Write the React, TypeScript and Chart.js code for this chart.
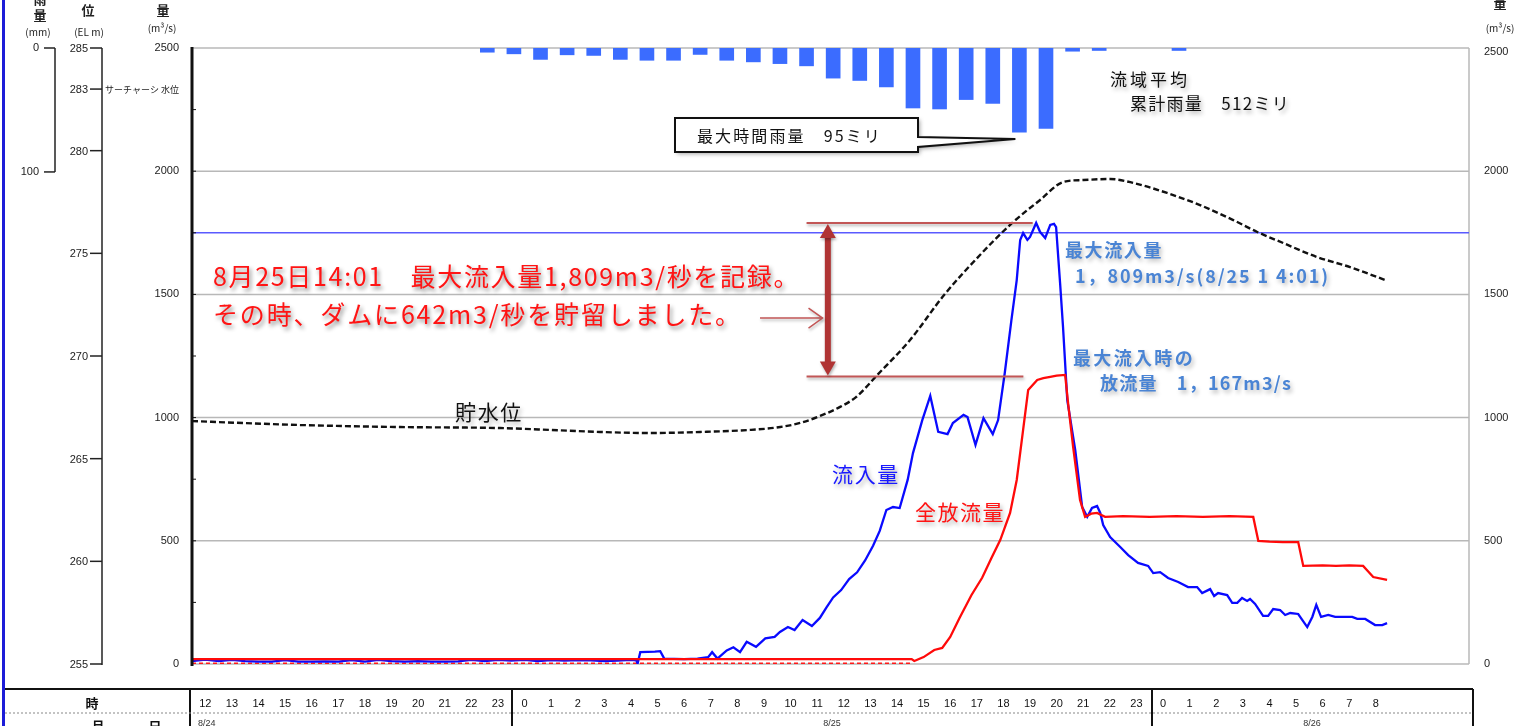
import React, { useEffect, useRef } from "react";
import { Chart, registerables } from "chart.js";

Chart.register(...registerables);

const W = 1526;
const H = 726;

// ---- axis ticks ----
const flowTicks = [0, 500, 1000, 1500, 2000, 2500];
const levelTicks = [285, 283, 280, 275, 270, 265, 260, 255];
const rainTicks = [0, 100];
const rainAxisMax = 497;

// ---- time table ----
const day1Hours = ["12", "13", "14", "15", "16", "17", "18", "19", "20", "21", "22", "23"];
const day2Hours = ["0", "1", "2", "3", "4", "5", "6", "7", "8", "9", "10", "11", "12", "13", "14", "15", "16", "17", "18", "19", "20", "21", "22", "23"];
const day3Hours = ["0", "1", "2", "3", "4", "5", "6", "7", "8"];
const dateLabels = ["8/24", "8/25", "8/26"];

// ---- hourly basin rainfall (mm), x in hours from 8/24 12:00 ----
const rainHours = [11.1, 12.1, 13.1, 14.1, 15.1, 16.1, 17.1, 18.1, 19.1, 20.1, 21.1, 22.1, 23.1, 24.1, 25.1, 26.1, 27.1, 28.1, 29.1, 30.1, 31.1, 32.1, 33.1, 34.1, 37.1];
const rainMm = [3.4, 4.7, 9.2, 5.5, 6.0, 9.2, 9.9, 9.9, 5.2, 9.9, 11.2, 12.6, 14.4, 24.3, 26.2, 31.4, 48.4, 49.2, 41.6, 44.7, 68.0, 64.9, 2.6, 2.0, 2.0];

// ---- inflow (m3/s) ----
const inflowHours = [0, 0.5, 1.0, 1.5, 2.0, 2.5, 3.0, 3.5, 4.0, 4.5, 5.0, 5.5, 6.0, 6.5, 7.0, 7.5, 8.0, 8.5, 9.0, 9.5, 10.0, 10.5, 11.0, 11.5, 12.0, 12.5, 13.0, 13.5, 14.0, 14.5, 15.0, 15.5, 16.0, 16.5, 16.7, 16.75, 16.85, 17.4, 17.6, 17.75, 18.5, 19.0, 19.4, 19.55, 19.75, 20.1, 20.35, 20.6, 20.85, 21.2, 21.55, 21.9, 22.1, 22.4, 22.65, 22.95, 23.3, 23.6, 23.85, 24.1, 24.4, 24.7, 25.0, 25.3, 25.6, 25.85, 26.1, 26.35, 26.6, 26.9, 27.1, 27.45, 27.75, 28.05, 28.4, 28.6, 29.0, 29.15, 29.45, 29.75, 30.1, 30.3, 30.55, 30.8, 31.0, 31.13, 31.24, 31.4, 31.5, 31.73, 31.88, 32.07, 32.26, 32.4, 32.48, 32.63, 32.74, 32.9, 33.2, 33.46, 33.65, 33.83, 34.02, 34.14, 34.25, 34.51, 34.89, 35.19, 35.56, 35.94, 36.13, 36.39, 36.69, 37.07, 37.44, 37.78, 37.97, 38.27, 38.42, 38.57, 38.91, 39.1, 39.29, 39.47, 39.66, 39.77, 39.96, 40.26, 40.45, 40.64, 40.9, 41.09, 41.28, 41.58, 41.92, 42.11, 42.26, 42.44, 42.71, 42.97, 43.27, 43.61, 43.8, 44.1, 44.47, 44.74, 44.92];
const inflowValues = [12, 18, 12, 17, 12, 10, 10, 16, 10, 10, 11, 10, 16, 10, 17, 12, 10, 12, 10, 10, 11, 17, 12, 17, 14, 17, 12, 16, 14, 16, 15, 12, 14, 17, 15, 2, 48, 50, 52, 22, 20, 22, 28, 48, 22, 55, 68, 48, 90, 70, 104, 110, 130, 150, 138, 178, 154, 187, 230, 270, 300, 345, 372, 420, 480, 540, 625, 637, 633, 747, 856, 990, 1088, 942, 933, 978, 1011, 1002, 889, 998, 933, 990, 1181, 1396, 1558, 1721, 1749, 1721, 1733, 1790, 1753, 1729, 1782, 1786, 1773, 1546, 1368, 1071, 868, 637, 597, 633, 641, 613, 564, 515, 475, 442, 410, 398, 369, 373, 349, 333, 312, 312, 288, 304, 276, 288, 280, 248, 248, 268, 256, 264, 244, 195, 195, 223, 219, 199, 207, 203, 150, 191, 240, 191, 199, 191, 191, 191, 183, 183, 158, 158, 166];

// ---- total outflow (m3/s) ----
const outflowHours = [0, 5, 10, 15, 20, 25, 27.05, 27.15, 27.5, 27.9, 28.2, 28.5, 28.85, 29.3, 29.7, 30.05, 30.38, 30.75, 31.0, 31.24, 31.43, 31.77, 32.0, 32.26, 32.5, 32.82, 32.93, 33.12, 33.38, 33.57, 33.8, 34.02, 34.32, 35.0, 36.0, 37.0, 38.0, 39.0, 39.89, 40.08, 40.5, 41.0, 41.58, 41.77, 42.5, 43.0, 43.5, 44.02, 44.4, 44.92];
const outflowValues = [20, 20, 20, 20, 20, 20, 20, 12, 28, 57, 65, 110, 187, 280, 350, 430, 503, 613, 747, 950, 1112, 1153, 1160, 1165, 1170, 1173, 1059, 881, 666, 597, 610, 613, 597, 600, 597, 600, 597, 600, 597, 500, 497, 495, 495, 398, 400, 398, 400, 398, 353, 341];

// ---- red dashed base discharge ----
const baseHours = [0, 27.1];
const baseValues = [2, 2];

// ---- reservoir water level (EL m) ----
const levelHours = [0, 4.06, 7.82, 11.58, 13.46, 15.34, 17.22, 19.1, 20.98, 22.11, 22.86, 23.61, 24.36, 24.96, 25.79, 26.99, 28.27, 29.62, 30.83, 31.88, 32.74, 33.5, 34.51, 35.38, 36.65, 37.89, 39.14, 40.04, 41.02, 42.29, 43.53, 44.85];
const levelValues = [266.83, 266.64, 266.54, 266.49, 266.4, 266.3, 266.25, 266.3, 266.4, 266.54, 266.74, 267.08, 267.52, 268.0, 269.12, 270.78, 272.97, 274.92, 276.48, 277.6, 278.47, 278.57, 278.62, 278.43, 277.94, 277.35, 276.62, 276.04, 275.5, 274.82, 274.33, 273.7];

// ---- reference flow line ----
const refLineHours = [0, 48];
const refLineValues = [1750, 1750];

// ---- storage bracket annotation ----
const bracketTopFlow = 1790;
const bracketBottomFlow = 1167;
const bracketFromHour = 23.1;
const bracketTopToHour = 31.6;
const bracketBottomToHour = 31.25;
const bracketArrowHour = 23.9;
const pointerFromHour = 21.35;
const pointerToHour = 23.7;
const pointerFlow = 1404;

const pts = (xs: number[], ys: number[]) => xs.map((x, i) => ({ x, y: ys[i] }));

const NUM_FONT = '11px "Liberation Sans", Arial, sans-serif';
const JP = '"Noto Sans CJK JP", "Noto Sans", sans-serif';

function fitText(
  ctx: CanvasRenderingContext2D,
  text: string,
  x: number,
  y: number,
  width: number,
  font: string,
  color: string,
  shadow?: string
) {
  ctx.save();
  ctx.font = font;
  ctx.fillStyle = color;
  ctx.textBaseline = "middle";
  ctx.textAlign = "left";
  (ctx as any).letterSpacing = "0px";
  const n = Array.from(text).length;
  const w = ctx.measureText(text).width;
  const ls = n > 0 ? (width - w) / n : 0;
  (ctx as any).letterSpacing = ls.toFixed(2) + "px";
  if (shadow) {
    ctx.shadowColor = shadow;
    ctx.shadowBlur = 4;
    ctx.shadowOffsetX = 2;
    ctx.shadowOffsetY = 3;
  }
  ctx.fillText(text, x, y);
  ctx.restore();
}

function txt(
  ctx: CanvasRenderingContext2D,
  text: string,
  x: number,
  y: number,
  font: string,
  align: CanvasTextAlign,
  color = "#222"
) {
  ctx.font = font;
  ctx.textAlign = align;
  ctx.textBaseline = "middle";
  ctx.fillStyle = color;
  ctx.fillText(text, x, y);
}

function seg(ctx: CanvasRenderingContext2D, x1: number, y1: number, x2: number, y2: number) {
  ctx.beginPath();
  ctx.moveTo(x1, y1);
  ctx.lineTo(x2, y2);
  ctx.stroke();
}

const overlay = {
  id: "overlay",
  beforeDatasetsDraw(chart: any) {
    const { ctx, chartArea: a, scales } = chart;
    const y = scales.y;
    ctx.save();
    ctx.strokeStyle = "#b8b8b8";
    ctx.lineWidth = 1.5;
    for (const v of flowTicks) {
      const py = y.getPixelForValue(v);
      seg(ctx, a.left, py, a.right, py);
    }
    seg(ctx, a.right, a.top, a.right, a.bottom);
    ctx.restore();
  },
  afterDatasetsDraw(chart: any) {
    const { ctx, chartArea: a, scales } = chart;
    const x = scales.x;
    const y = scales.y;
    const yl = scales.yLevel;
    const yr = scales.yRain;
    ctx.save();

    // page left border
    ctx.fillStyle = "#1c1cd8";
    ctx.fillRect(2, 0, 3, H);

    // left plot axis (thick)
    ctx.strokeStyle = "#111";
    ctx.lineWidth = 3;
    seg(ctx, a.left, a.top - 1, a.left, a.bottom + 2);
    ctx.lineWidth = 1;
    for (let v = 250; v < 2500; v += 250) {
      const py = y.getPixelForValue(v);
      seg(ctx, a.left, py, a.left + 4, py);
    }

    // flow labels left and right
    for (const v of flowTicks) {
      const py = y.getPixelForValue(v);
      txt(ctx, String(v), 179, py, NUM_FONT, "right");
      txt(ctx, String(v), a.right + 15, py + (v === 2500 ? 4 : 0), NUM_FONT, "left");
    }

    // water level axis
    ctx.strokeStyle = "#222";
    ctx.lineWidth = 1.5;
    seg(ctx, 102, yl.getPixelForValue(285), 102, yl.getPixelForValue(255) + 1);
    for (const v of levelTicks) {
      const py = yl.getPixelForValue(v);
      seg(ctx, 90, py, 102, py);
      txt(ctx, String(v), 88, py + 1, NUM_FONT, "right");
    }
    txt(ctx, "サーチャーシ 水位", 105, yl.getPixelForValue(283) + 1, `9px ${JP}`, "left");

    // rain axis
    seg(ctx, 55, yr.getPixelForValue(0), 55, yr.getPixelForValue(100));
    for (const v of rainTicks) {
      const py = yr.getPixelForValue(v);
      seg(ctx, 44, py, 55, py);
      txt(ctx, String(v), 39, py, NUM_FONT, "right");
    }

    // headers
    const hb = `bold 13px ${JP}`;
    const hs = `10px ${JP}`;
    txt(ctx, "雨", 40, -1, hb, "center");
    txt(ctx, "量", 40, 15, hb, "center");
    txt(ctx, "(mm)", 38, 32, hs, "center");
    txt(ctx, "位", 88, 10, hb, "center");
    txt(ctx, "(EL m)", 89, 32, hs, "center");
    txt(ctx, "量", 163, 10, hb, "center");
    txt(ctx, "(m³/s)", 162, 28, hs, "center");
    txt(ctx, "量", 1500, 3, hb, "center");
    txt(ctx, "(m³/s)", 1500, 28, hs, "center");

    // bottom table
    ctx.strokeStyle = "#111";
    ctx.lineWidth = 2;
    seg(ctx, 5, 689, 1473, 689);
    for (const xv of [190, 512, 1152, 1473]) seg(ctx, xv, 689, xv, H);
    ctx.strokeStyle = "#888";
    ctx.lineWidth = 1;
    ctx.setLineDash([2, 2]);
    seg(ctx, 5, 713, 1473, 713);
    ctx.setLineDash([]);
    txt(ctx, "時", 92, 703, `bold 13px ${JP}`, "center", "#111");
    txt(ctx, "月", 98, 726, `bold 13px ${JP}`, "center", "#111");
    txt(ctx, "日", 155, 726, `bold 13px ${JP}`, "center", "#111");
    const allHours = [...day1Hours, ...day2Hours, ...day3Hours];
    allHours.forEach((h, i) => {
      txt(ctx, h, x.getPixelForValue(i + 0.5), 704, NUM_FONT, "center", "#111");
    });
    txt(ctx, dateLabels[0], 198, 724, `9px "Liberation Sans"`, "left", "#333");
    txt(ctx, dateLabels[1], 832, 724, `9px "Liberation Sans"`, "center", "#333");
    txt(ctx, dateLabels[2], 1312, 724, `9px "Liberation Sans"`, "center", "#333");

    // rainfall callout box
    ctx.save();
    ctx.beginPath();
    ctx.moveTo(675, 118);
    ctx.lineTo(918, 118);
    ctx.lineTo(918, 137);
    ctx.lineTo(x.getPixelForValue(rainHours[20]) - 4, 139);
    ctx.lineTo(918, 147);
    ctx.lineTo(918, 152);
    ctx.lineTo(675, 152);
    ctx.closePath();
    ctx.fillStyle = "#fff";
    ctx.shadowColor = "rgba(0,0,0,0.35)";
    ctx.shadowBlur = 4;
    ctx.shadowOffsetX = 2;
    ctx.shadowOffsetY = 2;
    ctx.fill();
    ctx.shadowColor = "transparent";
    ctx.strokeStyle = "#111";
    ctx.lineWidth = 2;
    ctx.stroke();
    ctx.restore();
    fitText(ctx, "最大時間雨量　95ミリ", 697, 136, 185, `16px ${JP}`, "#111");

    fitText(ctx, "流域平均", 1110, 80, 80, `17px ${JP}`, "#111", "rgba(0,0,0,0.3)");
    fitText(ctx, "累計雨量　512ミリ", 1130, 104, 160, `17px ${JP}`, "#111", "rgba(0,0,0,0.3)");

    // bracket annotation
    const bTop = y.getPixelForValue(bracketTopFlow);
    const bBot = y.getPixelForValue(bracketBottomFlow);
    const bx0 = x.getPixelForValue(bracketFromHour);
    ctx.save();
    ctx.shadowColor = "rgba(0,0,0,0.3)";
    ctx.shadowBlur = 3;
    ctx.shadowOffsetX = 1;
    ctx.shadowOffsetY = 2;
    ctx.strokeStyle = "#c25656";
    ctx.lineWidth = 2;
    seg(ctx, bx0, bTop, x.getPixelForValue(bracketTopToHour), bTop);
    seg(ctx, bx0, bBot, x.getPixelForValue(bracketBottomToHour), bBot);
    const ax = x.getPixelForValue(bracketArrowHour);
    ctx.strokeStyle = "#b03434";
    ctx.lineWidth = 6;
    seg(ctx, ax, bTop + 12, ax, bBot - 12);
    ctx.fillStyle = "#b03434";
    ctx.beginPath();
    ctx.moveTo(ax, bTop + 1);
    ctx.lineTo(ax - 8, bTop + 15);
    ctx.lineTo(ax + 8, bTop + 15);
    ctx.closePath();
    ctx.fill();
    ctx.beginPath();
    ctx.moveTo(ax, bBot - 1);
    ctx.lineTo(ax - 8, bBot - 15);
    ctx.lineTo(ax + 8, bBot - 15);
    ctx.closePath();
    ctx.fill();
    // thin pointer
    const py = y.getPixelForValue(pointerFlow);
    const px0 = x.getPixelForValue(pointerFromHour);
    const px1 = x.getPixelForValue(pointerToHour);
    ctx.strokeStyle = "#c25656";
    ctx.lineWidth = 1.5;
    seg(ctx, px0, py, px1, py);
    ctx.beginPath();
    ctx.moveTo(px1 - 14, py - 10);
    ctx.lineTo(px1, py);
    ctx.lineTo(px1 - 14, py + 10);
    ctx.stroke();
    ctx.restore();

    // red statement
    fitText(ctx, "8月25日14:01　最大流入量1,809m3/秒を記録。", 213, 276, 587, `25px ${JP}`, "#ff1414", "rgba(0,0,0,0.45)");
    fitText(ctx, "その時、ダムに642m3/秒を貯留しました。", 213, 314, 529, `25px ${JP}`, "#ff1414", "rgba(0,0,0,0.45)");

    // blue annotations
    const bl = "#4a84d4";
    fitText(ctx, "最大流入量", 1065, 250, 98, `bold 18px ${JP}`, bl, "rgba(0,0,0,0.25)");
    fitText(ctx, "1，809m3/s(8/25 1 4:01)", 1075, 276, 255, `bold 18px ${JP}`, bl, "rgba(0,0,0,0.25)");
    fitText(ctx, "最大流入時の", 1073, 358, 122, `bold 18px ${JP}`, bl, "rgba(0,0,0,0.25)");
    fitText(ctx, "放流量　1，167m3/s", 1100, 383, 192, `bold 18px ${JP}`, bl, "rgba(0,0,0,0.25)");

    // series labels
    fitText(ctx, "貯水位", 455, 412, 68, `21px ${JP}`, "#111", "rgba(0,0,0,0.3)");
    fitText(ctx, "流入量", 832, 474, 68, `21px ${JP}`, "#1a1aff", "rgba(0,0,0,0.3)");
    fitText(ctx, "全放流量", 915, 512, 90, `21px ${JP}`, "#ff1414", "rgba(0,0,0,0.3)");

    ctx.restore();
  },
};

export default function App() {
  const ref = useRef<HTMLCanvasElement | null>(null);
  useEffect(() => {
    if (!ref.current) return;
    const chart = new Chart(ref.current, {
      type: "line",
      data: {
        datasets: [
          {
            type: "bar",
            data: pts(rainHours, rainMm),
            yAxisID: "yRain",
            xAxisID: "x",
            backgroundColor: "#3b6cff",
            barThickness: 14,
            grouped: false,
            order: 10,
          } as any,
          {
            data: pts(refLineHours, refLineValues),
            yAxisID: "y",
            borderColor: "#5a5aff",
            borderWidth: 1.5,
            pointRadius: 0,
            order: 9,
          },
          {
            data: pts(levelHours, levelValues),
            yAxisID: "yLevel",
            borderColor: "#111",
            borderWidth: 2.4,
            borderDash: [6, 3],
            pointRadius: 0,
            cubicInterpolationMode: "monotone",
            order: 8,
          },
          {
            data: pts(baseHours, baseValues),
            yAxisID: "y",
            borderColor: "#ff1a1a",
            borderWidth: 2,
            borderDash: [4, 3],
            pointRadius: 0,
            order: 7,
          },
          {
            data: pts(inflowHours, inflowValues),
            yAxisID: "y",
            borderColor: "#0a0aff",
            borderWidth: 2.3,
            pointRadius: 0,
            order: 6,
          },
          {
            data: pts(outflowHours, outflowValues),
            yAxisID: "y",
            borderColor: "#ff0a0a",
            borderWidth: 2.3,
            pointRadius: 0,
            order: 5,
          },
        ],
      },
      options: {
        responsive: false,
        animation: false,
        devicePixelRatio: 1,
        parsing: true,
        layout: { padding: { left: 192, right: W - 1469, top: 48, bottom: H - 664 } },
        plugins: { legend: { display: false }, tooltip: { enabled: false } },
        scales: {
          x: { type: "linear", min: 0, max: 48, offset: false, display: false },
          y: { type: "linear", min: 0, max: 2500, display: false },
          yLevel: { type: "linear", min: 255, max: 285, display: false },
          yRain: { type: "linear", min: 0, max: rainAxisMax, reverse: true, display: false },
        },
      } as any,
      plugins: [overlay],
    });
    return () => chart.destroy();
  }, []);
  return (
    <div style={{ position: "absolute", left: 0, top: 0, width: W, height: H, background: "#fff", overflow: "hidden" }}>
      <canvas ref={ref} width={W} height={H} style={{ display: "block" }} />
    </div>
  );
}
